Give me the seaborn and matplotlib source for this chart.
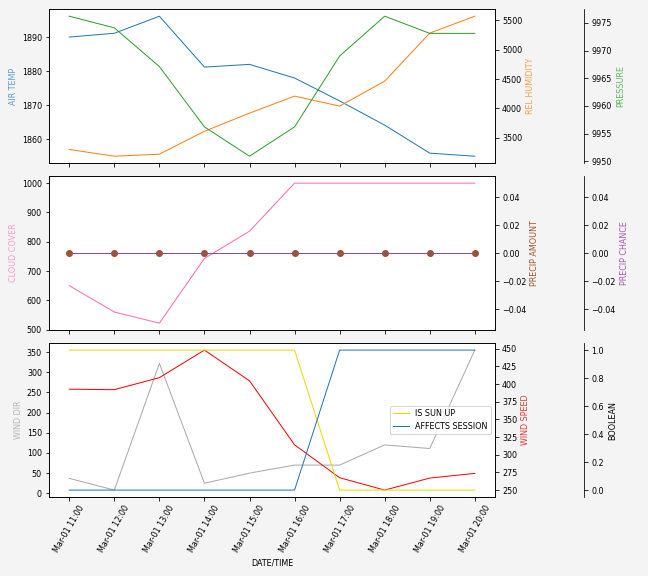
import pandas as pd
import seaborn as sns
import matplotlib.pyplot as plt
import matplotlib.dates as mdates

times = pd.to_datetime([
    "2023-03-01 11:00", "2023-03-01 12:00", "2023-03-01 13:00", "2023-03-01 14:00",
    "2023-03-01 15:00", "2023-03-01 16:00", "2023-03-01 17:00", "2023-03-01 18:00",
    "2023-03-01 19:00", "2023-03-01 20:00",
])
air_temp = [1890, 1891.1, 1896.1, 1881.2, 1882, 1878, 1871.3, 1864.2, 1856, 1855.1]
rel_humidity = [3300, 3185, 3220, 3610, 3920, 4210, 4040, 4465, 5285, 5573]
pressure = [9976.2, 9974.1, 9967.1, 9956.2, 9950.9, 9956.2, 9969, 9976.2, 9973.1, 9973.1]
cloud_cover = [650, 560, 522, 743, 836, 1000, 1000, 1000, 1000, 1000]
precip_amount = [0, 0, 0, 0, 0, 0, 0, 0, 0, 0]
precip_chance = [0, 0, 0, 0, 0, 0, 0, 0, 0, 0]
wind_dir = [37, 8, 322, 25, 50, 70, 70, 120, 111, 355]
wind_speed = [392.7, 392, 409, 448, 404.5, 314, 267.5, 250, 267, 273.6]
is_sun_up = [1, 1, 1, 1, 1, 1, 0, 0, 0, 0]
affects_session = [0, 0, 0, 0, 0, 0, 1, 1, 1, 1]

df = pd.DataFrame({
    "time": times, "air_temp": air_temp, "rel_humidity": rel_humidity,
    "pressure": pressure, "cloud_cover": cloud_cover,
    "precip_amount": precip_amount, "precip_chance": precip_chance,
    "wind_dir": wind_dir, "wind_speed": wind_speed,
    "is_sun_up": is_sun_up, "affects_session": affects_session,
})

plt.rcParams["font.size"] = 8

fig, axes = plt.subplots(3, 1, sharex=True, figsize=(9, 8), dpi=72)
fig.patch.set_facecolor("#f4f4f4")
fig.subplots_adjust(left=0.0756, right=0.764, top=0.984, bottom=0.137, hspace=0.084)


def linea(ax, col, color, **kw):
    sns.lineplot(data=df, x="time", y=col, ax=ax, color=color, linewidth=1, **kw)


def asse_extra(ax):
    tw = ax.twinx()
    tw.spines["right"].set_position(("axes", 1.2))
    tw.spines["top"].set_visible(False)
    tw.spines["bottom"].set_visible(False)
    tw.spines["left"].set_visible(False)
    tw.patch.set_visible(False)
    return tw


# pannello 1: temperatura, umidita, pressione
ax1 = axes[0]
linea(ax1, "air_temp", "tab:blue")
ax1.set_ylabel("AIR TEMP", color="#5b9bd0")
ax1b = ax1.twinx()
linea(ax1b, "rel_humidity", "tab:orange")
ax1b.set_ylabel("REL HUMIDITY", color="#f7a050")
ax1c = asse_extra(ax1)
linea(ax1c, "pressure", "tab:green")
ax1c.set_ylabel("PRESSURE", color="#5cb85c")

# pannello 2: nuvole e precipitazioni
ax2 = axes[1]
linea(ax2, "cloud_cover", "hotpink")
ax2.set_ylabel("CLOUD COVER", color="#ff99cc")
ax2b = ax2.twinx()
linea(ax2b, "precip_amount", "sienna", marker="o", markersize=7,
      markeredgecolor="sienna", markeredgewidth=0)
ax2b.set_ylabel("PRECIP AMOUNT", color="sienna")
ax2c = asse_extra(ax2)
linea(ax2c, "precip_chance", "#8e4a9e")
ax2c.set_ylabel("PRECIP CHANCE", color="#a655b5")

# pannello 3: vento e booleani
ax3 = axes[2]
linea(ax3, "wind_dir", "darkgray")
ax3.set_ylabel("WIND DIR", color="#b5b5b5")
ax3b = ax3.twinx()
linea(ax3b, "wind_speed", "red")
ax3b.set_ylabel("WIND SPEED", color="#ee3333")
ax3c = asse_extra(ax3)
linea(ax3c, "is_sun_up", "#e5dc00", label="IS SUN UP")
linea(ax3c, "affects_session", "tab:blue", label="AFFECTS SESSION")
ax3c.set_ylabel("BOOLEAN")
ax3c.legend(loc="center right")

for ax in axes:
    ax.set_xlabel("")
ax3.set_xlabel("DATE/TIME")
ax3.xaxis.set_major_locator(mdates.HourLocator())
ax3.xaxis.set_major_formatter(mdates.DateFormatter("%b-%d %H:%M"))
plt.setp(ax3.get_xticklabels(), rotation=60, ha="center")

plt.savefig("out.png", dpi=72, facecolor=fig.get_facecolor())
